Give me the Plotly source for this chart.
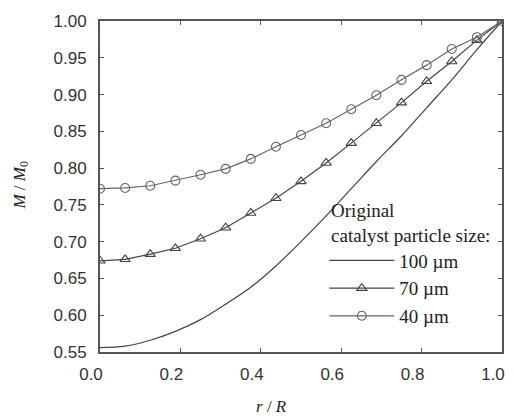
import plotly.graph_objects as go

# radial position r/R (step 1/16)
r = [i / 16 for i in range(17)]

# relative mass M/M0 for each original catalyst particle size
m_100um = [0.556, 0.558, 0.566, 0.578, 0.594, 0.615, 0.638, 0.667, 0.700,
           0.735, 0.772, 0.809, 0.844, 0.882, 0.920, 0.961, 1.000]
m_70um = [0.674, 0.676, 0.683, 0.691, 0.704, 0.719, 0.739, 0.759, 0.782,
          0.807, 0.834, 0.861, 0.889, 0.918, 0.945, 0.974, 1.000]
m_40um = [0.772, 0.773, 0.776, 0.783, 0.791, 0.799, 0.8125, 0.829, 0.845,
          0.861, 0.880, 0.899, 0.920, 0.940, 0.962, 0.978, 1.000]

x_ticks = [0.0, 0.2, 0.4, 0.6, 0.8, 1.0]
y_ticks = [0.55, 0.60, 0.65, 0.70, 0.75, 0.80, 0.85, 0.90, 0.95, 1.00]

serif = "Liberation Serif, Times New Roman, serif"
sans = "Liberation Sans, Arial, sans-serif"

fig = go.Figure()
fig.add_trace(go.Scatter(
    x=r, y=m_100um, mode="lines", name="100 µm",
    line=dict(color="#444444", width=1.2, shape="spline"),
))
fig.add_trace(go.Scatter(
    x=r, y=m_70um, mode="lines+markers", name="70 µm",
    line=dict(color="#444444", width=1.2),
    marker=dict(symbol="triangle-up-open", size=9, color="#444444",
                line=dict(width=1.1, color="#444444")),
))
fig.add_trace(go.Scatter(
    x=r, y=m_40um, mode="lines+markers", name="40 µm",
    line=dict(color="#666666", width=1.2),
    marker=dict(symbol="circle-open", size=9, color="#666666",
                line=dict(width=1.1, color="#666666")),
))

axis_common = dict(
    showline=True, linecolor="#555555", linewidth=2, mirror="ticks",
    ticks="inside", ticklen=4, tickcolor="#555555", tickwidth=1,
    showgrid=False, zeroline=False,
    tickfont=dict(family=sans, size=17, color="#333333"),
)

title_font = dict(family=serif, size=17, color="#222222")

fig.update_layout(
    width=513, height=416,
    margin=dict(l=100, r=8, t=21, b=64),
    paper_bgcolor="white", plot_bgcolor="white",
    showlegend=True,
    legend=dict(
        x=0.558, y=0.483, xanchor="left", yanchor="top",
        bgcolor="rgba(0,0,0,0)",
        itemwidth=65,
        font=dict(family=serif, size=19, color="#222222"),
        title=dict(text="&nbsp;Original<br>&nbsp;catalyst particle size:",
                   font=dict(family=serif, size=19, color="#222222")),
        tracegroupgap=0,
    ),
    xaxis=dict(
        range=[0, 1.0], tickvals=x_ticks, ticktext=[f"{v:.1f}" for v in x_ticks],
        ticklabelshift=-9, ticklabelstandoff=6,
        **axis_common,
    ),
    yaxis=dict(
        range=[0.55, 1.0], tickvals=y_ticks, ticktext=[f"{v:.2f}" for v in y_ticks],
        ticklabelstandoff=8,
        **axis_common,
    ),
    annotations=[
        dict(text="<i>r</i> / <i>R</i>", xref="paper", yref="paper",
             x=0.427, y=-0.166, xanchor="center", yanchor="middle",
             showarrow=False, font=title_font),
        dict(text="<i>M</i> / <i>M</i><sub>0</sub>", xref="paper", yref="paper",
             x=-0.1975, y=0.5045, xanchor="center", yanchor="middle",
             textangle=-90, showarrow=False, font=title_font),
    ],
)

fig.write_html("out.html")
